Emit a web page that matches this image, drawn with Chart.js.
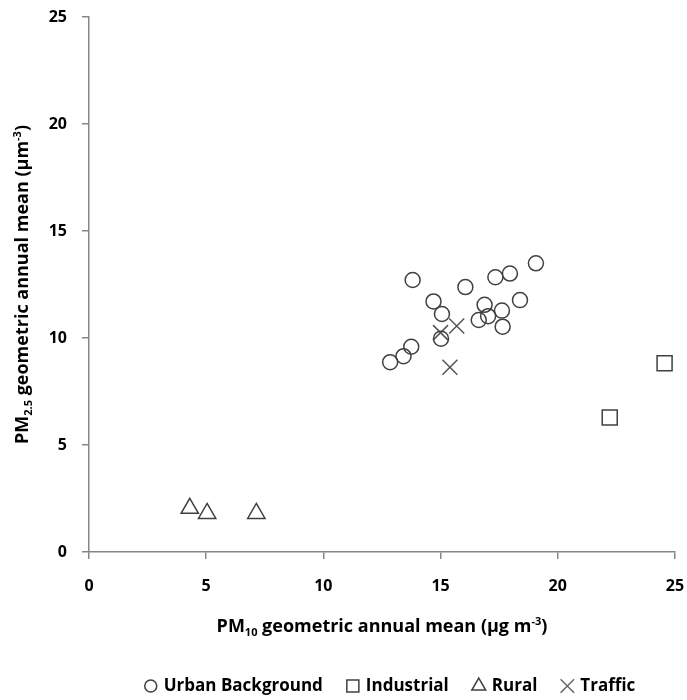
<!DOCTYPE html>
<html>
<head>
<meta charset="utf-8">
<script src="https://cdn.jsdelivr.net/npm/chart.js@4.4.1/dist/chart.umd.min.js"></script>
<style>
  html, body { margin: 0; padding: 0; background: #ffffff; }
  #wrap { width: 687px; height: 700px; position: relative; }
</style>
</head>
<body>
<div id="wrap"><canvas id="c" width="687" height="700"></canvas></div>
<script>
// ---- data ----
const seriesNames = ['Urban Background', 'Industrial', 'Rural', 'Traffic'];
const urbanX = [13.81, 16.06, 17.34, 17.96, 19.07, 14.70, 15.06, 16.88, 18.39, 17.62, 16.63, 17.03, 17.65, 15.02, 13.75, 13.42, 12.85];
const urbanY = [12.71, 12.38, 12.84, 13.01, 13.49, 11.71, 11.12, 11.55, 11.77, 11.28, 10.84, 11.02, 10.53, 9.97, 9.59, 9.15, 8.87];
const industrialX = [24.56, 22.22];
const industrialY = [8.82, 6.28];
const ruralX = [4.30, 5.04, 7.14];
const ruralY = [2.04, 1.80, 1.80];
const trafficX = [15.00, 15.69, 15.40];
const trafficY = [10.25, 10.56, 8.63];
const xTicks = [0, 5, 10, 15, 20, 25];
const yTicks = [0, 5, 10, 15, 20, 25];

const pts = (xs, ys) => xs.map((x, i) => ({ x: x, y: ys[i] }));

const FONT = "'Open Sans', Lato, 'DejaVu Sans', sans-serif";
const AXIS = '#868686';
const MARK = '#404040';

const xTitle = [
  { t: 'PM' }, { t: '10', sub: true }, { t: ' geometric annual mean (µg m' }, { t: '-3', sup: true }, { t: ')' }
];
const yTitle = [
  { t: 'PM' }, { t: '2.5', sub: true }, { t: ' geometric annual mean (µm' }, { t: '-3', sup: true }, { t: ')' }
];

function drawRich(ctx, segs, cx, cy, rot, size) {
  ctx.save();
  ctx.translate(cx, cy);
  ctx.rotate(rot);
  ctx.fillStyle = '#000000';
  ctx.textBaseline = 'alphabetic';
  ctx.textAlign = 'left';
  const small = Math.round(size * 0.62);
  const fontOf = s => 'bold ' + ((s.sub || s.sup) ? small : size) + 'px ' + FONT;
  let total = 0;
  const widths = segs.map(s => { ctx.font = fontOf(s); const w = ctx.measureText(s.t).width; total += w; return w; });
  let x = -total / 2;
  const base = size * 0.36;
  segs.forEach((s, i) => {
    ctx.font = fontOf(s);
    let y = base;
    if (s.sub) y = base + size * 0.22;
    if (s.sup) y = base - size * 0.42;
    ctx.fillText(s.t, x, y);
    x += widths[i];
  });
  ctx.restore();
  return total;
}

const legendMarks = [
  { pointStyle: 'circle', radius: 6, color: MARK },
  { pointStyle: 'rect', radius: 8.5, color: MARK },
  { pointStyle: 'triangle', radius: 8, color: MARK },
  { pointStyle: 'crossRot', radius: 9.5, color: '#666666' }
];

const titlePlugin = {
  id: 'richTitles',
  afterDraw(chart) {
    const ctx = chart.ctx;
    const a = chart.chartArea;
    drawRich(ctx, xTitle, (a.left + a.right) / 2, 626, 0, 18);
    drawRich(ctx, yTitle, 22, (a.top + a.bottom) / 2, -Math.PI / 2, 18);

    // legend row
    ctx.save();
    ctx.font = 'bold 17px ' + FONT;
    const markGap = 13, itemGap = 30;
    const widths = seriesNames.map(n => ctx.measureText(n).width);
    let total = 0;
    widths.forEach((w, i) => { total += markGap + w + (i < widths.length - 1 ? itemGap : 0); });
    const cy = 686;
    let x = 390 - (total + 6) / 2 + 6;
    seriesNames.forEach((n, i) => {
      const m = legendMarks[i];
      ctx.strokeStyle = m.color;
      ctx.fillStyle = 'rgba(0,0,0,0)';
      ctx.lineWidth = 1.5;
      Chart.helpers.drawPoint(ctx, { pointStyle: m.pointStyle, radius: m.radius, rotation: 0, borderWidth: 1.5 }, x, cy);
      ctx.fillStyle = '#000000';
      ctx.textBaseline = 'middle';
      ctx.textAlign = 'left';
      ctx.fillText(n, x + markGap, cy);
      x += markGap + widths[i] + itemGap;
    });
    ctx.restore();
  }
};

const common = {
  showLine: false,
  backgroundColor: 'rgba(0,0,0,0)',
  borderColor: MARK,
  borderWidth: 1.5
};

new Chart(document.getElementById('c'), {
  type: 'scatter',
  data: {
    datasets: [
      Object.assign({}, common, { label: seriesNames[0], data: pts(urbanX, urbanY), pointStyle: 'circle', pointRadius: 7.5 }),
      Object.assign({}, common, { label: seriesNames[1], data: pts(industrialX, industrialY), pointStyle: 'rect', pointRadius: 10.6 }),
      Object.assign({}, common, { label: seriesNames[2], data: pts(ruralX, ruralY), pointStyle: 'triangle', pointRadius: 10 }),
      Object.assign({}, common, { label: seriesNames[3], data: pts(trafficX, trafficY), pointStyle: 'crossRot', pointRadius: 10.6, borderColor: '#555555' })
    ]
  },
  options: {
    responsive: false,
    animation: false,
    layout: { padding: { top: 17, right: 11, left: 0, bottom: 0 } },
    plugins: {
      tooltip: { enabled: false },
      legend: { display: false }
    },
    scales: {
      x: {
        type: 'linear',
        min: 0, max: 25,
        afterBuildTicks: s => { s.ticks = xTicks.map(v => ({ value: v })); },
        afterFit: s => { s.height = 148; s.paddingLeft = 0; s.paddingRight = 0; },
        ticks: { color: '#000000', padding: 18, font: { family: FONT, size: 16, weight: 'bold' } },
        grid: { drawOnChartArea: false, drawTicks: true, tickLength: 7, color: AXIS, lineWidth: 1.5 },
        border: { color: AXIS, width: 1.5 }
      },
      y: {
        type: 'linear',
        min: 0, max: 25,
        afterBuildTicks: s => { s.ticks = yTicks.map(v => ({ value: v })); },
        afterFit: s => { s.width = 89; s.paddingTop = 0; s.paddingBottom = 0; },
        ticks: { color: '#000000', padding: 15, font: { family: FONT, size: 16, weight: 'bold' } },
        grid: { drawOnChartArea: false, drawTicks: true, tickLength: 7, color: AXIS, lineWidth: 1.5 },
        border: { color: AXIS, width: 1.5 }
      }
    }
  },
  plugins: [titlePlugin]
});
</script>
</body>
</html>
